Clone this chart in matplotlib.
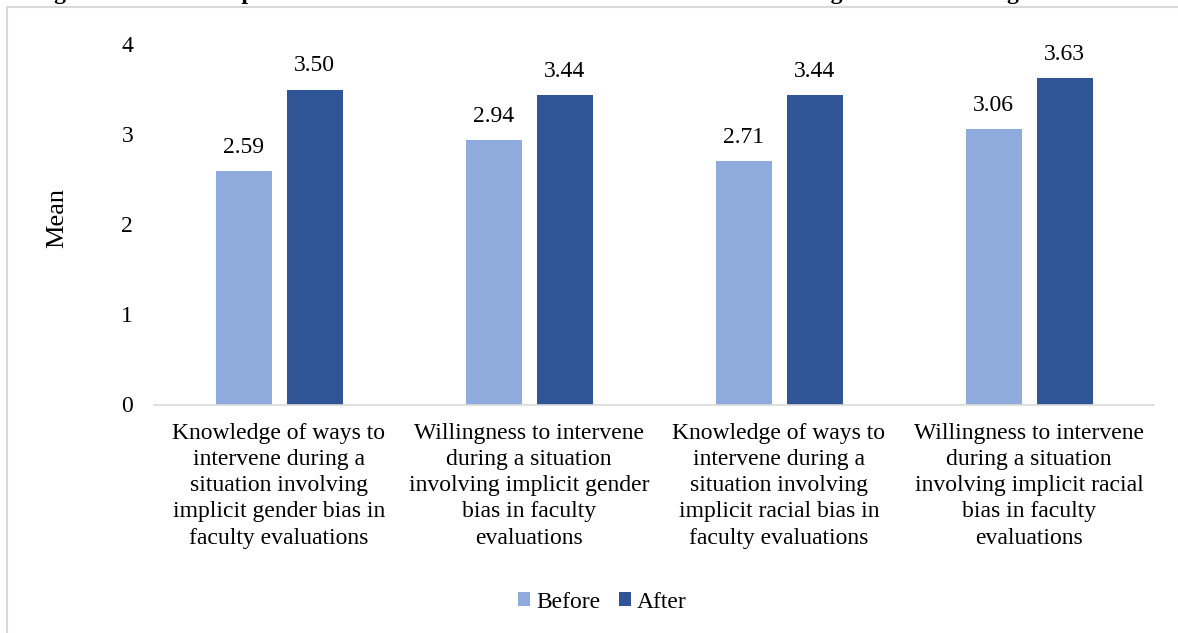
import numpy as np
import matplotlib.pyplot as plt
from matplotlib.patches import Rectangle

# Data
categories = [
    "Knowledge of ways to\nintervene during a\nsituation involving\nimplicit gender bias in\nfaculty evaluations",
    "Willingness to intervene\nduring a situation\ninvolving implicit gender\nbias in faculty\nevaluations",
    "Knowledge of ways to\nintervene during a\nsituation involving\nimplicit racial bias in\nfaculty evaluations",
    "Willingness to intervene\nduring a situation\ninvolving implicit racial\nbias in faculty\nevaluations",
]
before = [2.59, 2.94, 2.71, 3.06]
after = [3.50, 3.44, 3.44, 3.63]
yticks = [0, 1, 2, 3, 4]

plt.rcParams["font.family"] = ["Liberation Serif", "DejaVu Serif"]
FS = 17

W, H = 1178, 633
fig = plt.figure(figsize=(W / 100, H / 100), dpi=100)
ax = fig.add_axes([154 / W, 1 - 404.5 / H, 1000 / W, 360 / H])

x = np.arange(len(categories))
width = 0.224
offset = 0.142
c_before = "#8faadc"
c_after = "#2f5597"

b1 = ax.bar(x - offset, before, width, color=c_before, label="Before", zorder=2)
b2 = ax.bar(x + offset, after, width, color=c_after, label="After", zorder=2)

# value labels above bars
for bars in (b1, b2):
    for bar in bars:
        h = bar.get_height()
        ax.annotate(f"{h:.2f}", (bar.get_x() + bar.get_width() / 2, h),
                    xytext=(0, 13), textcoords="offset points",
                    ha="center", va="baseline", fontsize=FS)

ax.set_xlim(-0.5, 3.5)
ax.set_ylim(0, 4)
ax.set_yticks(yticks)
ax.set_xticks(x)
ax.set_xticklabels(categories, fontsize=FS, linespacing=1.33)
ax.tick_params(axis="y", length=0, pad=15, labelsize=FS)
ax.tick_params(axis="x", length=0, pad=13)

for side in ("top", "right", "left"):
    ax.spines[side].set_visible(False)
ax.spines["bottom"].set_color("#d9d9d9")
ax.spines["bottom"].set_linewidth(1.2)

fig.text(57 / W, 1 - 218 / H, "Mean", rotation=90, ha="center", va="center", fontsize=19)

fig.legend(loc="center", bbox_to_anchor=(602.5 / W, 1 - 602 / H), ncol=2,
           frameon=False, fontsize=FS, handlelength=0.51, handleheight=0.51,
           handletextpad=0.25, columnspacing=0.8)

# caption running off the top edge
fig.text(33 / W, 1 + 1 / H,
         "Figure 2. Mean Comparison of Scores Before and After Bias Awareness Trainings Sessions Among Chairs",
         ha="left", va="baseline", fontsize=FS, fontweight="bold")

# chart area border
fig.patches.append(Rectangle((7 / W, -0.2), 1.2, 1.2 - 7 / H, transform=fig.transFigure,
                             fill=False, edgecolor="#d9d9d9", linewidth=1.5))

fig.savefig("out.png", dpi=100)
